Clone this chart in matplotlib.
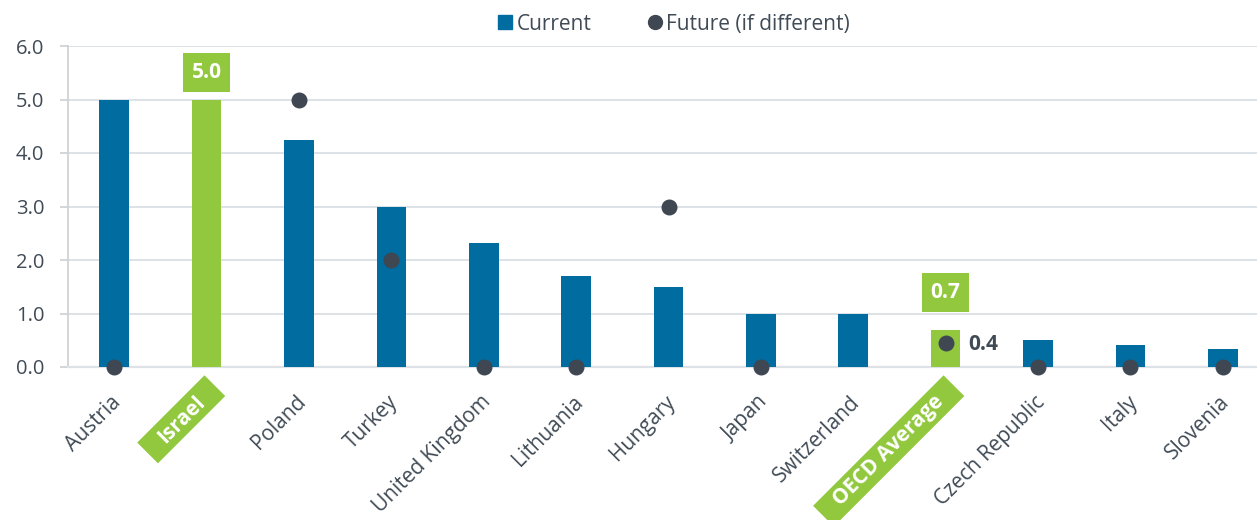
import numpy as np
import matplotlib
matplotlib.use("Agg")
import matplotlib.pyplot as plt
from matplotlib.lines import Line2D
from matplotlib.path import Path
from matplotlib.transforms import ScaledTranslation

plt.rcParams['font.family'] = ['Open Sans', 'DejaVu Sans']

categories = ["Austria", "Israel", "Poland", "Turkey", "United Kingdom", "Lithuania",
              "Hungary", "Japan", "Switzerland", "OECD Average", "Czech Republic",
              "Italy", "Slovenia"]
current = [5.0, 5.0, 4.25, 3.0, 2.32, 1.7, 1.5, 1.0, 1.0, 0.7, 0.5, 0.42, 0.33]
future = [0.0, np.nan, 5.0, 2.0, 0.0, 0.0, 3.0, 0.0, np.nan, 0.44, 0.0, 0.0, 0.0]
highlight = ["Israel", "OECD Average"]
yticks = [0.0, 1.0, 2.0, 3.0, 4.0, 5.0, 6.0]

BLUE = "#006ca0"
GREEN = "#92c83e"
DOT = "#3e4752"
TEXT = "#404b56"
GRID = "#dde2e7"
FS = 15


def wide_box(x0, y0, width, height, mutation_size):
    padx = 0.9 * mutation_size
    pady = 0.2 * mutation_size
    x1, y1 = x0 - padx, y0 - pady
    x2, y2 = x0 + width + padx, y0 + height + pady
    return Path([(x1, y1), (x2, y1), (x2, y2), (x1, y2), (x1, y1)], closed=True)


fig = plt.figure(figsize=(12.57, 5.20), dpi=100)
ax = fig.add_axes([68/1257, 1-367/520, 1-68/1257, (367-46)/520])

x = np.arange(len(categories))
colors = [GREEN if c in highlight else BLUE for c in categories]
ax.bar(x, current, width=0.32, color=colors, zorder=3)
ax.scatter(x, future, s=110, color=DOT, zorder=4, clip_on=False)

ax.set_ylim(0, 6)
ax.set_xlim(-0.5, 12.37)
ax.set_yticks(yticks)
ax.set_yticklabels([f"{v:.1f}" for v in yticks], fontsize=FS - 0.5, color=TEXT)
ax.yaxis.grid(True, color=GRID, linewidth=1.4, zorder=0)
ax.set_axisbelow(True)
for s in ["top", "right"]:
    ax.spines[s].set_visible(False)
ax.spines["left"].set_color("#d0d3d6")
ax.spines["left"].set_linewidth(1.3)
ax.spines["bottom"].set_color(GRID)
ax.spines["bottom"].set_linewidth(1.6)
ax.tick_params(axis="y", length=6, width=1.3, color="#d0d3d6", pad=11)
ax.tick_params(axis="x", length=0, pad=23)

ax.set_xticks(x)
ax.set_xticklabels(categories, rotation=45, ha="right", va="center",
                   rotation_mode="anchor", fontsize=FS, color=TEXT)
for lbl in ax.get_xticklabels():
    if lbl.get_text() in highlight:
        lbl.set_color("white")
        lbl.set_fontweight("bold")
        lbl.set_bbox(dict(boxstyle=wide_box, fc=GREEN, ec="none"))
        dx = -5
    else:
        dx = 4
    lbl.set_transform(lbl.get_transform() + ScaledTranslation(dx / 100, 0, fig.dpi_scale_trans))

# value boxes
box = dict(boxstyle="square,pad=0.42", fc=GREEN, ec="none")
i_isr = categories.index("Israel")
ax.annotate(f"{current[i_isr]:.1f}", xy=(i_isr, current[i_isr]), xytext=(0, 19.5),
            textcoords="offset points", ha="center", va="center", fontsize=FS,
            fontweight="bold", color="white", bbox=box, zorder=5)
i_oecd = categories.index("OECD Average")
ax.annotate(f"{current[i_oecd]:.1f}", xy=(i_oecd, current[i_oecd]), xytext=(0, 26.5),
            textcoords="offset points", ha="center", va="center", fontsize=FS,
            fontweight="bold", color="white", bbox=box, zorder=5)
ax.annotate(f"{future[i_oecd]:.1f}", xy=(i_oecd, future[i_oecd]), xytext=(16, -1),
            textcoords="offset points", ha="left", va="center", fontsize=FS,
            fontweight="bold", color=TEXT, zorder=5)

handles = [Line2D([], [], marker="s", linestyle="none", markersize=10, color=BLUE),
           Line2D([], [], marker="o", linestyle="none", markersize=10, color=DOT)]
fig.legend(handles, ["Current", "Future (if different)"], ncol=2, frameon=False,
           loc="center", bbox_to_anchor=(674/1257, 1-24/520), fontsize=FS,
           handlelength=0.7, handletextpad=0.2, columnspacing=2.7,
           labelcolor=TEXT)

fig.savefig("out.png", dpi=100)
